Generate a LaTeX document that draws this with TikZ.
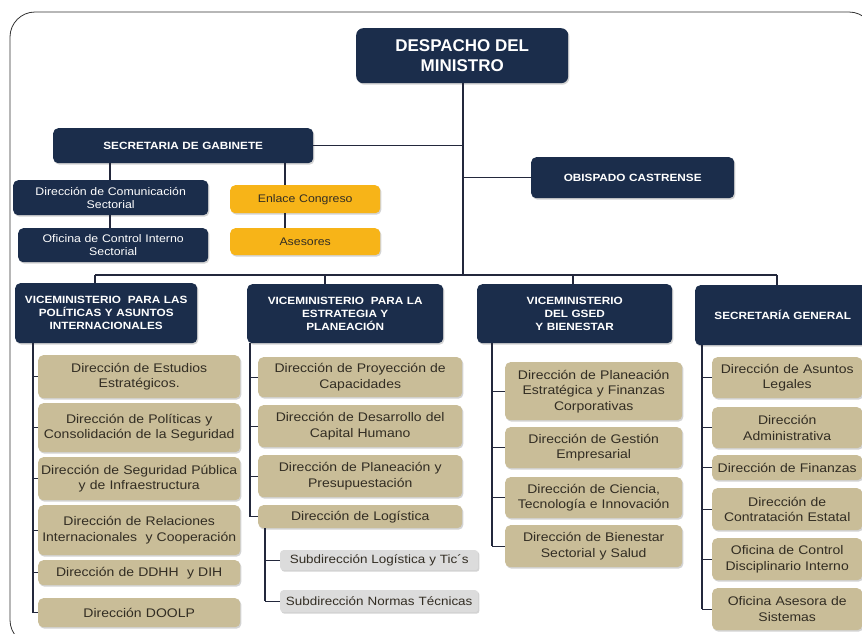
\documentclass[tikz,border=0pt]{standalone}
\usepackage{fontspec}
\setmainfont{Liberation Sans}
\newfontfamily\stf[FakeStretch=1.12]{Liberation Sans}
\usetikzlibrary{shadows}
\definecolor{navy}{RGB}{27,45,75}
\definecolor{tan}{RGB}{201,189,152}
\definecolor{orng}{RGB}{247,180,24}
\definecolor{subg}{RGB}{220,220,220}
\definecolor{txtd}{RGB}{50,45,35}
\definecolor{linec}{RGB}{35,40,60}
\tikzset{
  base/.style={anchor=north west, align=center, inner sep=1pt, rounded corners=5pt,
    drop shadow={opacity=0.35, shadow xshift=1.2pt, shadow yshift=-1.5pt}},
  navybox/.style={base, fill=navy, text=white, font=\stf\bfseries\fontsize{10.5}{13}\selectfont},
  navysm/.style={base, fill=navy, text=white, font=\stf\fontsize{11}{13}\selectfont},
  orbox/.style={base, fill=orng, text=txtd, font=\stf\fontsize{11}{13}\selectfont},
  tanbox/.style={base, fill=tan, text=txtd, font=\stf\fontsize{12.5}{15.5}\selectfont},
  subbox/.style={base, rounded corners=3pt, fill=subg, text=txtd, font=\stf\fontsize{12}{14}\selectfont},
  conn/.style={draw=linec, line width=1.2pt},
}
\newcommand{\bx}[7]{\node[#1, minimum width=#4pt, minimum height=#5pt, text width=#6pt] (#2) at (#3) {#7};}
\begin{document}
\begin{tikzpicture}[x=1pt,y=-1pt]
\useasboundingbox (0,0) rectangle (862,633);
\begin{scope}
\clip (0,0) rectangle (862,633);
\draw[line width=0.8pt, draw=black!80] (10,12) [rounded corners=25pt] -- (874,12) -- (874,645) -- (10,645) -- cycle;
\end{scope}

% top
\node[base, fill=navy, text=white, font=\bfseries\fontsize{17}{20}\selectfont,
  minimum width=212pt, minimum height=55pt, rounded corners=7pt] (desp) at (356,28) {DESPACHO DEL\\MINISTRO};
\bx{navybox}{gab}{53,128}{260}{35}{250}{SECRETARIA DE GABINETE}
\bx{navybox}{obis}{531,157}{203}{41}{195}{OBISPADO CASTRENSE}
\bx{navysm}{com}{13,180}{195}{35}{190}{Dirección de Comunicación\\Sectorial}
\bx{navysm}{ofi}{18,228}{190}{34}{185}{Oficina de Control Interno\\Sectorial}
\bx{orbox}{enl}{230,185}{150}{28}{145}{Enlace Congreso}
\bx{orbox}{ase}{230,228}{150}{27}{145}{Asesores}

% heads
\bx{navybox}{h1}{15,283}{182}{60}{178}{VICEMINISTERIO\ \ PARA LAS\\POLÍTICAS Y ASUNTOS\\INTERNACIONALES}
\bx{navybox}{h2}{247,284}{196}{59}{190}{VICEMINISTERIO\ \ PARA LA\\ESTRATEGIA Y\\PLANEACIÓN}
\bx{navybox}{h3}{477,284}{195}{59}{190}{VICEMINISTERIO\\DEL GSED\\Y BIENESTAR}
\bx{navybox}{h4}{695,285}{175}{60}{160}{SECRETARÍA GENERAL}

% column 1
\bx{tanbox}{a1}{38,355}{202}{43}{198}{Dirección de Estudios\\Estratégicos.}
\bx{tanbox}{a2}{38,403}{202}{49}{198}{Dirección de Políticas y\\Consolidación de la Seguridad}
\bx{tanbox}{a3}{38,457}{202}{43}{198}{Dirección de Seguridad Pública\\y de Infraestructura}
\bx{tanbox}{a4}{38,505}{202}{50}{198}{Dirección de Relaciones\\Internacionales\ \ y Cooperación}
\bx{tanbox}{a5}{38,560}{202}{25}{198}{Dirección de DDHH\ \ y DIH}
\bx{tanbox}{a6}{38,598}{202}{29}{198}{Dirección DOOLP}

% column 2
\bx{tanbox}{b1}{258,357}{204}{40}{200}{Dirección de Proyección de\\Capacidades}
\bx{tanbox}{b2}{258,405}{204}{42}{200}{Dirección de Desarrollo del\\Capital Humano}
\bx{tanbox}{b3}{258,455}{204}{42}{200}{Dirección de Planeación y\\Presupuestación}
\bx{tanbox}{b4}{258,505}{204}{23}{200}{Dirección de Logística}
\bx{subbox}{s1}{280,550}{198}{20}{194}{Subdirección Logística y Tic´s}
\bx{subbox}{s2}{280,590}{198}{22}{194}{Subdirección Normas Técnicas}

% column 3
\bx{tanbox}{c1}{505,362}{177}{58}{173}{Dirección de Planeación\\Estratégica y Finanzas\\Corporativas}
\bx{tanbox}{c2}{505,427}{177}{41}{173}{Dirección de Gestión\\Empresarial}
\bx{tanbox}{c3}{505,477}{177}{41}{173}{Dirección de Ciencia,\\Tecnología e Innovación}
\bx{tanbox}{c4}{505,525}{177}{42}{173}{Dirección de Bienestar\\Sectorial y Salud}

% column 4
\bx{tanbox}{d1}{712,357}{150}{41}{146}{Dirección de Asuntos\\Legales}
\bx{tanbox}{d2}{712,407}{150}{41}{146}{Dirección\\Administrativa}
\bx{tanbox}{d3}{712,455}{150}{25}{146}{Dirección de Finanzas}
\bx{tanbox}{d4}{712,488}{150}{42}{146}{Dirección de\\Contratación Estatal}
\bx{tanbox}{d5}{712,538}{150}{42}{146}{Oficina de Control\\Disciplinario Interno}
\bx{tanbox}{d6}{712,588}{150}{42}{146}{Oficina Asesora de\\Sistemas}

% connectors top
\coordinate (mv) at (463,275);
\coordinate (bl) at (95,275);
\coordinate (br) at (777,275);
\coordinate (p1) at (95,275);
\coordinate (p2) at (325,275);
\coordinate (p3) at (573,275);
\coordinate (p4) at (777,275);
\draw[conn] (desp.south -| mv) -- (mv);
\draw[conn] (gab.east) -- (gab.east -| mv);
\draw[conn] (obis.west -| mv) -- (obis.west);
\draw[conn] (bl) -- (br);
\draw[conn] (p1) -- (p1 |- h1.north);
\draw[conn] (p2) -- (p2 |- h2.north);
\draw[conn] (p3) -- (p3 |- h3.north);
\draw[conn] (p4) -- (p4 |- h4.north);
\coordinate (g1) at (110,0);
\coordinate (g2) at (285,0);
\draw[conn] (g1 |- gab.south) -- (g1 |- com.north);
\draw[conn] (g1 |- com.south) -- (g1 |- ofi.north);
\draw[conn] (g2 |- gab.south) -- (g2 |- enl.north);
\draw[conn] (g2 |- enl.south) -- (g2 |- ase.north);

% column spines
\coordinate (x1) at (33,0);
\coordinate (x2) at (250,0);
\coordinate (xs) at (265,0);
\coordinate (x3) at (492,0);
\coordinate (x4) at (702,0);
\draw[conn] (x1 |- h1.south) -- (x1 |- a6.west);
\foreach \n in {a1,a2,a3,a4,a5,a6} \draw[conn] (x1 |- \n.west) -- (\n.west);
\draw[conn] (x2 |- h2.south) -- (x2 |- b4.west);
\foreach \n in {b1,b2,b3,b4} \draw[conn] (x2 |- \n.west) -- (\n.west);
\draw[conn] (xs |- b4.south) -- (xs |- s2.west);
\foreach \n in {s1,s2} \draw[conn] (xs |- \n.west) -- (\n.west);
\draw[conn] (x3 |- h3.south) -- (x3 |- c4.west);
\foreach \n in {c1,c2,c3,c4} \draw[conn] (x3 |- \n.west) -- (\n.west);
\draw[conn] (x4 |- h4.south) -- (x4 |- d6.west);
\foreach \n in {d1,d2,d3,d4,d5,d6} \draw[conn] (x4 |- \n.west) -- (\n.west);
\end{tikzpicture}
\end{document}
